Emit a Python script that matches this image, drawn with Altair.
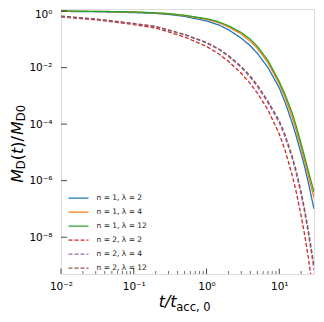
import altair as alt
import pandas as pd

# time grid (t / t_acc,0)
t_vals = [0.01, 0.03, 0.1, 0.2, 0.3, 0.5, 1, 1.5, 2, 3, 4, 5, 7, 10, 12, 15, 17, 20, 22, 25, 30]

# log10 of M_D(t)/M_D0
logm_n1_l2 = [-0.012, -0.025, -0.055, -0.085, -0.12, -0.19, -0.35, -0.50, -0.66, -0.96, -1.23, -1.5, -2.0,
              -2.72, -3.22, -3.95, -4.4, -5.05, -5.45, -6.05, -7.0]
logm_n1_l4 = [-0.006, -0.014, -0.035, -0.07, -0.10, -0.16, -0.29, -0.42, -0.56, -0.81, -1.07, -1.32, -1.83,
              -2.58, -3.05, -3.75, -4.2, -4.85, -5.25, -5.82, -6.6]
logm_n1_l12 = [-0.004, -0.010, -0.030, -0.065, -0.09, -0.15, -0.27, -0.39, -0.52, -0.76, -1.0, -1.25, -1.75,
               -2.5, -2.95, -3.6, -4.05, -4.7, -5.1, -5.65, -6.4]
logm_n2_l2 = [-0.21, -0.31, -0.48, -0.60, -0.74, -0.92, -1.25, -1.53, -1.78, -2.2, -2.57, -2.9, -3.5,
              -4.35, -4.92, -5.8, -6.37, -7.25, -7.83, -8.7, -10.15]
logm_n2_l4 = [-0.19, -0.29, -0.45, -0.55, -0.68, -0.84, -1.13, -1.37, -1.6, -2.0, -2.35, -2.67, -3.25,
              -3.95, -4.45, -5.2, -5.72, -6.5, -7.04, -7.85, -9.15]
logm_n2_l12 = [-0.18, -0.28, -0.44, -0.54, -0.67, -0.83, -1.11, -1.35, -1.57, -1.96, -2.3, -2.62, -3.19,
               -3.88, -4.37, -5.12, -5.63, -6.4, -6.93, -7.72, -9.0]

labels = ["n = 1, λ = 2", "n = 1, λ = 4", "n = 1, λ = 12",
          "n = 2, λ = 2", "n = 2, λ = 4", "n = 2, λ = 12"]
colors = ["#1f77b4", "#ff7f0e", "#2ca02c", "#d62728", "#9467bd", "#8c564b"]
dashes = [[1, 0], [1, 0], [1, 0], [4, 2], [4, 2], [4, 2]]

x_major = [0.01, 0.1, 1, 10]
x_minor = [0.02, 0.03, 0.04, 0.05, 0.06, 0.07, 0.08, 0.09,
           0.2, 0.3, 0.4, 0.5, 0.6, 0.7, 0.8, 0.9,
           2, 3, 4, 5, 6, 7, 8, 9, 20]
y_major = [1, 1e-2, 1e-4, 1e-6, 1e-8]

series = [logm_n1_l2, logm_n1_l4, logm_n1_l12, logm_n2_l2, logm_n2_l4, logm_n2_l12]
rows = []
for lab, vals in zip(labels, series):
    for t, v in zip(t_vals, vals):
        rows.append({"t": t, "M": 10 ** v, "label": lab})
df = pd.DataFrame(rows)

# layout (svg is 308 x 306, placed at page offset 8,8)
LEFT, TOP = 53, 1
W, H = 253, 265
FONT = "DejaVu Sans"
OX, OY = 8 + LEFT, 8 + TOP  # page position of the plot origin

sup = {0: "⁰", 1: "¹", -1: "⁻¹", -2: "⁻²", -3: "⁻³", -4: "⁻⁴", -6: "⁻⁶", -8: "⁻⁸"}


def label_expr():
    e = "''"
    for k, s in sup.items():
        e = f"(round(log(datum.value)/LN10) == {k} ? '10{s}' : {e})"
    return e


xscale = alt.Scale(type="log", domain=[0.01, 30], nice=False)
yscale = alt.Scale(type="log", domain=[5e-10, 1.18], nice=False)

xaxis = alt.Axis(values=x_major, labelExpr=label_expr(), title=None,
                 domain=False, ticks=False, grid=False, labelPadding=7,
                 labelFont=FONT, labelFontSize=10.5, labelColor="#000000",
                 labelFlush=False, labelOverlap=False)
yaxis = alt.Axis(values=y_major, labelExpr=label_expr(), title=None,
                 domain=False, ticks=False, grid=False, labelPadding=9,
                 labelFont=FONT, labelFontSize=10.5, labelColor="#000000",
                 labelFlush=False, labelOverlap=False,
                 labelOffset={"condition": {"test": "datum.value >= 1", "value": 3}, "value": 0})

ROW = 13.6
legend = alt.Legend(
    title=None, orient="none", legendX=6.5, legendY=194.7 - ROW / 2 - OY + 3.5,
    symbolType="stroke", symbolSize=400, symbolStrokeWidth=1.3,
    labelFont=FONT, labelFontSize=7.5, labelColor="#222222",
    labelOffset=7, rowPadding=0, padding=0, clipHeight=ROW,
)

lines = alt.Chart(df).mark_line(clip=True, strokeWidth=1.3).encode(
    x=alt.X("t:Q", scale=xscale, axis=xaxis),
    y=alt.Y("M:Q", scale=yscale, axis=yaxis),
    color=alt.Color("label:N", scale=alt.Scale(domain=labels, range=colors), legend=legend),
    strokeDash=alt.StrokeDash("label:N", scale=alt.Scale(domain=labels, range=dashes), legend=legend),
    order="t:Q",
)

tick_col = "#333333"
xmaj_t = alt.Chart(pd.DataFrame({"v": x_major})).mark_rule(color=tick_col, strokeWidth=0.9).encode(
    x=alt.X("v:Q", scale=xscale, axis=xaxis), y=alt.value(H), y2=alt.value(H - 5.5))
xmin_t = alt.Chart(pd.DataFrame({"v": x_minor})).mark_rule(color=tick_col, strokeWidth=0.7).encode(
    x=alt.X("v:Q", scale=xscale, axis=xaxis), y=alt.value(H), y2=alt.value(H - 3))
ymaj_t = alt.Chart(pd.DataFrame({"v": y_major})).mark_rule(color=tick_col, strokeWidth=0.9).encode(
    y=alt.Y("v:Q", scale=yscale, axis=yaxis), x=alt.value(0), x2=alt.value(6))

dummy = pd.DataFrame({"a": [0]})


def txt(s, x, y, size, italic=False, angle=0):
    kw = dict(font=FONT, fontSize=size, align="left", baseline="alphabetic", color="#000000")
    if italic:
        kw["fontStyle"] = "italic"
    if angle:
        kw["angle"] = angle
    return alt.Chart(dummy).mark_text(**kw).encode(
        x=alt.value(x), y=alt.value(y), text=alt.value(s))


YB = 23.0  # page x of the rotated title's baseline
titles = [
    # x title  t/t_acc,0
    txt("t/t", 158.7 - OX, 307.0 - OY, 16, italic=True),
    txt("acc, 0", 176.3 - OX, 311.0 - OY, 11.5),
    # y title  M_D(t)/M_D0 (rotated)
    txt("M", YB - OX, 182.7 - OY, 16, italic=True, angle=270),
    txt("D", YB + 2.4 - OX, 169.3 - OY, 11.5, angle=270),
    txt("(", YB - OX, 160.3 - OY, 16, angle=270),
    txt("t", YB - OX, 154.0 - OY, 16, italic=True, angle=270),
    txt(")/", YB - OX, 147.7 - OY, 16, angle=270),
    txt("M", YB - OX, 135.0 - OY, 16, italic=True, angle=270),
    txt("D0", YB + 2.4 - OX, 121.2 - OY, 11.5, angle=270),
]

chart = alt.layer(lines, xmaj_t, xmin_t, ymaj_t, *titles).properties(
    width=W, height=H,
    padding={"left": LEFT, "top": TOP, "right": 308 - LEFT - W, "bottom": 306 - TOP - H},
    autosize=alt.AutoSizeParams(type="none"),
).configure_view(stroke="#666666", strokeWidth=1.2).configure(background="white")

chart.save("out.html", embed_options={"renderer": "svg", "actions": False})
